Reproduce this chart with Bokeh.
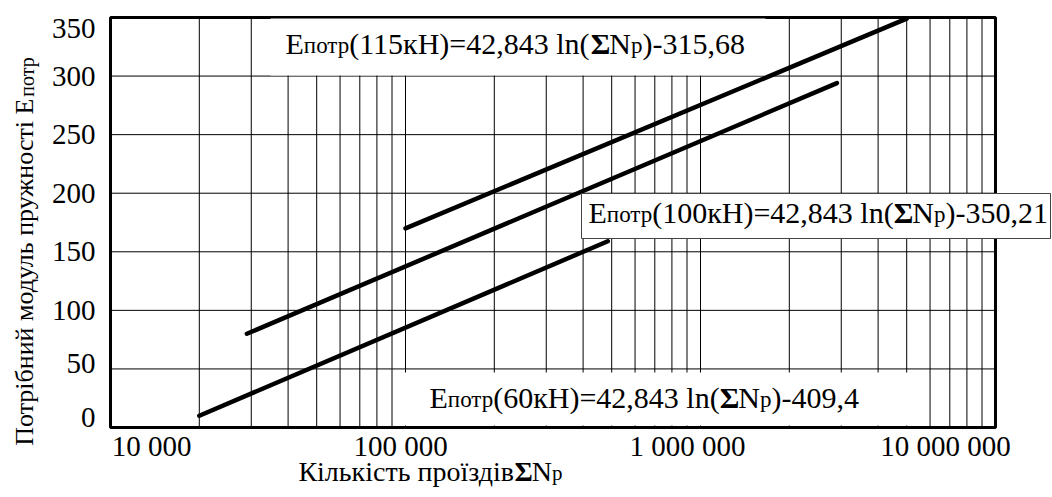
import math

from bokeh.plotting import figure
from bokeh.models import Range1d, ColumnDataSource
from bokeh.core.properties import value, field
from bokeh.embed import file_html
from bokeh.resources import INLINE

# Required elastic modulus against the cumulative number of passes (semi-log scale)
passes_115 = [1.0e5, 5.0e6]
modulus_115 = [170, 349]
passes_100 = [2.9e4, 2.9e6]
modulus_100 = [80, 294]
passes_60 = [2.0e4, 4.85e5]
modulus_60 = [10, 159]

# Trendline equation texts
loads = ["115кН", "100кН", "60кН"]
eq_slope = "42,843"
eq_intercepts = ["315,68", "350,21", "409,4"]

# Axis ticks
x_ticks = [1e4, 1e5, 1e6, 1e7]
x_tick_labels = ["10 000", "100 000", "1 000 000", "10 000 000"]
y_ticks = [0, 50, 100, 150, 200, 250, 300, 350]
y_tick_labels = [str(v) for v in y_ticks]

FONT = "Liberation Serif"
MID = 0.3375          # baseline lies this many em below a "middle" anchor
W, H = 1052, 497
# pixel box occupied by the plotted area (x_ticks[0]..x_ticks[-1], y_ticks[0]..y_ticks[-1])
FL, FR, FT, FB = 110, 995, 17, 427

lx0, lx1 = math.log10(x_ticks[0]), math.log10(x_ticks[-1])
dec_px = (FR - FL) / (lx1 - lx0)
unit_px = (FB - FT) / (y_ticks[-1] - y_ticks[0])


def px_x(px):
    return 10 ** (lx0 + (px - FL) / dec_px)


def px_y(py):
    return y_ticks[0] + (FB - py) / unit_px


# Advance widths of Liberation Serif (1/1000 em) for the characters used
ADV = {
    " ": 250, "(": 333, ")": 333, "=": 564, ",": 250, "-": 333,
    "0": 500, "1": 500, "2": 500, "3": 500, "4": 500, "5": 500,
    "6": 500, "7": 500, "8": 500, "9": 500,
    "E": 611, "N": 722, "l": 278, "n": 500, "Σ": 620,
    "а": 444, "б": 509, "в": 472, "г": 410, "д": 509, "е": 444, "ж": 691,
    "з": 395, "и": 535, "й": 535, "к": 486, "л": 499, "м": 633, "н": 535,
    "о": 500, "п": 535, "р": 500, "с": 444, "т": 437, "у": 500, "ь": 456,
    "і": 278, "ї": 278, "К": 667, "Н": 722, "П": 722,
}


def text_width(s, size):
    return sum(ADV.get(ch, 500) for ch in s) * size / 1000.0


p = figure(
    width=W, height=H, title=None,
    x_axis_type="log",
    x_range=Range1d(px_x(0), px_x(W)), y_range=Range1d(px_y(H), px_y(0)),
    x_axis_location=None, y_axis_location=None,
    output_backend="svg", toolbar_location=None, min_border=0,
)
p.background_fill_color = "white"
p.border_fill_color = "white"
p.outline_line_color = None
p.grid.visible = False

# grid: every 1..9 multiple of each decade, and every 50 units of modulus
grid_x = [m * 10 ** k for k in range(int(lx0), int(lx1)) for m in range(1, 10)]
p.segment(x0=grid_x, y0=y_ticks[0], x1=grid_x, y1=y_ticks[-1],
          line_color="black", line_width=1)
p.segment(x0=x_ticks[0], y0=y_ticks[1:-1], x1=x_ticks[-1], y1=y_ticks[1:-1],
          line_color="black", line_width=1)

# the three trendlines
for xs, ys in ((passes_115, modulus_115), (passes_100, modulus_100), (passes_60, modulus_60)):
    p.line(xs, ys, line_color="black", line_width=4.5, line_cap="round")

# plot frame
p.quad(left=x_ticks[0], right=x_ticks[-1], bottom=y_ticks[0], top=y_ticks[-1],
       fill_color=None, line_color="black", line_width=3)

# y tick labels (edge labels nudged inwards, in pixels, positive = up)
y_nudge = [10, 5, 0, 0, 0, 0, 0, -11]
p.text(x=px_x(FL - 15), y=[v + n / unit_px for v, n in zip(y_ticks, y_nudge)],
       text=y_tick_labels, text_font=value(FONT), text_font_size="29px",
       text_color="black", text_align="right", text_baseline="middle")

# x tick labels, baseline 28 px under the frame
x_shift = [41, -5, -13, -50]
p.text(x=x_ticks, y=px_y(FB + 28 - MID * 29), text=x_tick_labels, x_offset=x_shift,
       text_font=value(FONT), text_font_size="29px", text_color="black",
       text_align="center", text_baseline="middle")


def rich_text(runs, bx, by, start=0.0, vertical=False):
    """Runs of (text, size, bold) set on one baseline, starting at pixel (bx, by)."""
    rows = dict(x=[], y=[], text=[], size=[], style=[])
    off = start
    for txt, size, bold in runs:
        if vertical:
            rows["x"].append(px_x(bx - MID * size))
            rows["y"].append(px_y(by - off))
        else:
            rows["x"].append(px_x(bx + off))
            rows["y"].append(px_y(by - MID * size))
        rows["text"].append(txt)
        rows["size"].append(f"{size}px")
        rows["style"].append("bold" if bold else "normal")
        off += text_width(txt, size)
    p.text(x="x", y="y", text="text", source=ColumnDataSource(rows),
           angle=math.pi / 2 if vertical else 0.0,
           text_font=value(FONT), text_font_size=field("size"),
           text_font_style=field("style"), text_color="black",
           text_align="left", text_baseline="middle")


# trendline equations: anchor (left, baseline) and white box around, in pixels
F, S = 30, 23
eq_anchor = [(285, 53), (588, 222), (429, 407)]
eq_box = [(-15, 480, -35, 22), (-7, 462, -29, 16), (-31, 486, -35, 18)]
eq_border = [None, "#444444", None]
for load, icpt, (ax, ay), (bl, br, bt, bb), brd in zip(loads, eq_intercepts, eq_anchor, eq_box, eq_border):
    p.quad(left=px_x(ax + bl), right=px_x(ax + br), top=px_y(ay + bt), bottom=px_y(ay + bb),
           fill_color="white", line_color=brd, line_width=1)
    runs = [
        ("E", F, False), ("потр", S, False),
        (f"({load})={eq_slope} ln(", F, False), ("Σ", F, True),
        ("N", F, False), ("р", S, False), (f")-{icpt}", F, False),
    ]
    rich_text(runs, ax, ay)

# x axis title, centred at x = 430 px, baseline 53 px under the frame
xt_runs = [("Кількість проїздів", 28, False), ("Σ", 28, True), ("N", 28, False), ("р", 21, False)]
xt_w = sum(text_width(t, s) for t, s, _ in xt_runs)
rich_text(xt_runs, 430, FB + 53, start=-xt_w / 2)

# y axis title, reading upwards, centred at y = 251 px
yt_runs = [("Потрібний модуль пружності E", 26, False), ("потр", 20, False)]
yt_w = sum(text_width(t, s) for t, s, _ in yt_runs)
rich_text(yt_runs, 33, 251 + yt_w / 2, vertical=True)

open("out.html", "w").write(file_html(p, INLINE))
